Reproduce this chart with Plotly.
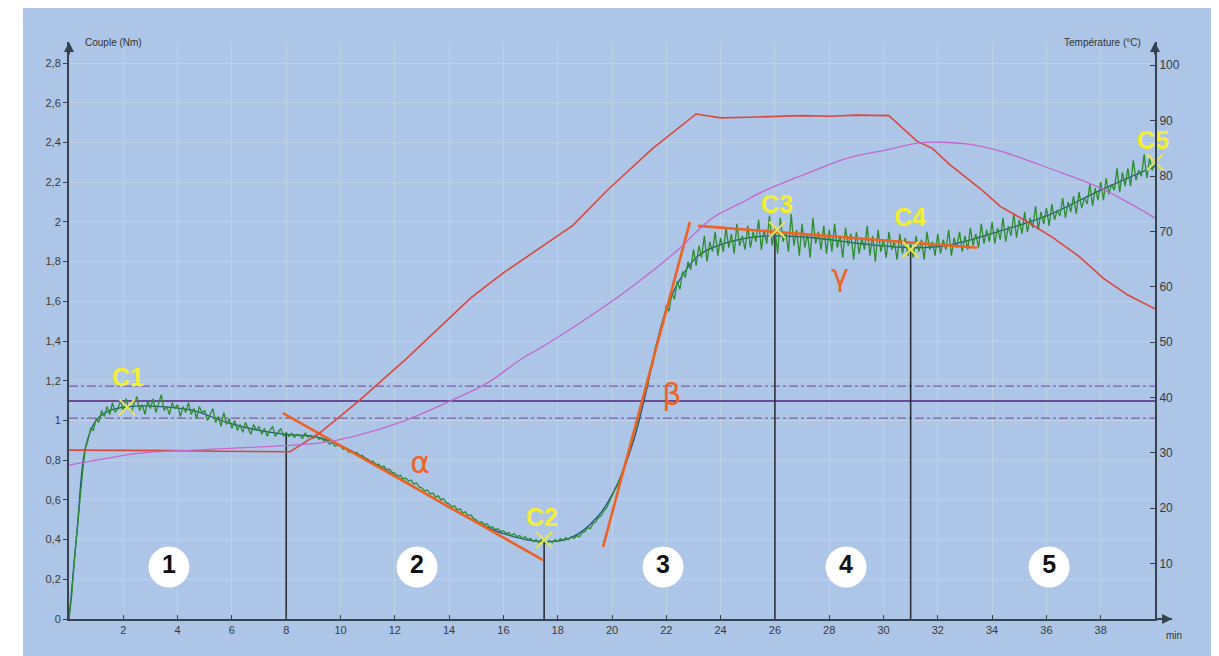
import plotly.graph_objects as go

# ---------------- data ----------------
time_step = 0.1
torque_raw = [
    0.00, 0.12, 0.30, 0.45, 0.62, 0.74, 0.86, 0.90, 0.96, 0.95,
    1.01, 0.99, 1.05, 1.02, 1.07, 1.03, 1.09, 1.04, 1.06, 1.10,
    1.05, 1.11, 1.06, 1.04, 1.09, 1.12, 1.05, 1.08, 1.03, 1.10,
    1.06, 1.11, 1.04, 1.08, 1.13, 1.05, 1.07, 1.03, 1.09, 1.06,
    1.08, 1.02, 1.07, 1.04, 1.09, 1.03, 1.06, 1.01, 1.07, 1.04,
    1.05, 1.00, 1.03, 1.06, 0.99, 1.02, 0.97, 1.04, 0.98, 1.01,
    0.96, 1.00, 0.95, 0.98, 0.94, 0.99, 0.96, 0.93, 0.98, 0.95,
    0.97, 0.93, 0.96, 0.92, 0.95, 0.97, 0.92, 0.94, 0.96, 0.92,
    0.94, 0.92, 0.935, 0.915, 0.93, 0.925, 0.91, 0.935, 0.915, 0.925,
    0.91, 0.925, 0.905, 0.91, 0.895, 0.90, 0.88, 0.89, 0.87, 0.875,
    0.87, 0.855, 0.86, 0.84, 0.845, 0.835, 0.84, 0.82, 0.825, 0.81,
    0.805, 0.79, 0.795, 0.775, 0.78, 0.765, 0.77, 0.75, 0.755, 0.74,
    0.735, 0.72, 0.725, 0.705, 0.71, 0.695, 0.70, 0.68, 0.685, 0.665,
    0.66, 0.645, 0.65, 0.63, 0.635, 0.615, 0.62, 0.60, 0.605, 0.585,
    0.58, 0.565, 0.57, 0.55, 0.555, 0.535, 0.54, 0.52, 0.525, 0.505,
    0.50, 0.485, 0.49, 0.475, 0.48, 0.46, 0.465, 0.45, 0.455, 0.44,
    0.445, 0.43, 0.435, 0.42, 0.43, 0.415, 0.42, 0.405, 0.415, 0.40,
    0.405, 0.39, 0.40, 0.385, 0.40, 0.39, 0.38, 0.395, 0.385, 0.40,
    0.39, 0.405, 0.395, 0.41, 0.40, 0.415, 0.405, 0.42, 0.415, 0.435,
    0.44, 0.46, 0.455, 0.48, 0.49, 0.51, 0.52, 0.545, 0.56, 0.59,
    0.62, 0.65, 0.67, 0.71, 0.76, 0.79, 0.84, 0.87, 0.93, 0.97,
    1.03, 1.08, 1.14, 1.17, 1.25, 1.28, 1.37, 1.40, 1.47, 1.49,
    1.58, 1.55, 1.64, 1.61, 1.70, 1.66, 1.75, 1.72, 1.80, 1.76,
    1.86, 1.78, 1.88, 1.82, 1.93, 1.80, 1.90, 1.85, 1.95, 1.83,
    1.92, 1.85, 1.97, 1.87, 1.94, 1.84, 1.99, 1.88, 1.93, 1.86,
    1.98, 1.87, 1.95, 1.90, 2.01, 1.86, 1.96, 1.89, 2.03, 1.88,
    1.97, 1.84, 2.02, 1.90, 1.95, 1.85, 2.04, 1.88, 1.96, 1.83,
    1.99, 1.87, 1.94, 1.82, 2.02, 1.89, 1.95, 1.86, 1.98, 1.84,
    1.96, 1.85, 1.99, 1.87, 1.93, 1.82, 1.97, 1.88, 1.94, 1.81,
    1.95, 1.84, 1.92, 1.86, 1.98, 1.83, 1.93, 1.80, 1.96, 1.85,
    1.91, 1.82, 1.95, 1.86, 1.90, 1.81, 1.94, 1.84, 1.92, 1.83,
    1.89, 1.82, 1.93, 1.85, 1.91, 1.81, 1.95, 1.86, 1.90, 1.83,
    1.94, 1.84, 1.91, 1.86, 1.96, 1.83, 1.92, 1.87, 1.95, 1.85,
    1.93, 1.86, 1.97, 1.88, 1.94, 1.87, 1.99, 1.89, 1.96, 1.90,
    2.00, 1.89, 1.97, 1.91, 2.02, 1.90, 1.98, 1.93, 2.04, 1.92,
    2.01, 1.94, 2.05, 1.95, 2.02, 1.97, 2.08, 1.96, 2.05, 1.99,
    2.07, 1.98, 2.09, 2.01, 2.06, 2.03, 2.12, 2.02, 2.10, 2.05,
    2.13, 2.04, 2.15, 2.07, 2.12, 2.09, 2.19, 2.08, 2.17, 2.11,
    2.20, 2.11, 2.22, 2.14, 2.19, 2.16, 2.27, 2.15, 2.25, 2.18,
    2.27, 2.18, 2.31, 2.21, 2.26, 2.23, 2.34, 2.22, 2.32, 2.26,
    2.31,
]
time_raw = [round(i * time_step, 1) for i in range(len(torque_raw))]

smooth_t = [0, 0.3, 0.6, 1.0, 1.5, 2.2, 3.4, 4.6, 5.8, 7.0, 8.0, 9.2, 10.5, 12.3,
            14.15, 16.0, 17.5, 18.5, 19.5, 20.2, 20.8, 21.3, 21.65, 22.0, 22.5,
            23.1, 23.7, 25, 26, 27.4, 29.2, 31, 32.3, 34.2, 36, 38, 40]
smooth_c = [0, 0.45, 0.86, 1.0, 1.05, 1.07, 1.07, 1.05, 0.99, 0.95, 0.93, 0.915,
            0.84, 0.70, 0.55, 0.43, 0.39, 0.41, 0.52, 0.68, 0.90, 1.17, 1.39,
            1.56, 1.71, 1.82, 1.87, 1.92, 1.93, 1.92, 1.89, 1.87, 1.88, 1.95,
            2.03, 2.16, 2.28]

red_t = [0, 2, 4, 5.5, 8.0, 8.14, 9.24, 10.7, 12.45, 14.8, 16, 17.35, 18.56, 19.8,
         21.5, 23.1, 24, 25, 26, 27, 28, 29, 30.2, 31.23, 31.8, 32.45, 33.07,
         33.66, 34.3, 35.2, 36.2, 37.2, 38.1, 39, 40]
red_temp = [30.5, 30.5, 30.4, 30.3, 30.2, 30.2, 33.6, 39.5, 47.1, 58, 62.5, 67,
            71.1, 77.3, 85, 91.2, 90.5, 90.6, 90.8, 90.9, 90.8, 91, 90.9, 86.3,
            85, 82, 79.6, 77.3, 74.5, 72, 69, 65.5, 61.5, 58.5, 56]

mag_t = [0, 1.5, 2.7, 4.6, 8.25, 9.24, 10.5, 12.3, 14.1, 15.4, 16.7, 17.35, 19.8,
         21, 22.2, 22.5, 23.7, 24.7, 25.6, 27.4, 28.65, 30.2, 31.2, 32.1, 33.2,
         34.3, 36.1, 38, 40]
mag_temp = [27.8, 29.1, 30, 30.5, 31.4, 31.8, 33, 35.7, 39.5, 42.6, 47.1, 48.9,
            56.7, 61, 65.7, 67, 72.4, 75, 77.3, 80.9, 83.2, 84.8, 85.9, 86.1,
            85.7, 84.5, 81.4, 77.8, 72.4]

limit_mid = 1.098
limit_band = [1.173, 1.012]

tangent_names = ["α", "β", "γ"]
tangent_t = [[7.88, 17.46], [19.67, 22.87], [23.17, 33.45]]
tangent_c = [[1.037, 0.297], [0.363, 2.0], [1.98, 1.87]]
tangent_label_t = [12.93, 22.2, 28.4]
tangent_label_c = [0.775, 1.118, 1.717]

point_names = ["C1", "C2", "C3", "C4", "C5"]
point_t = [2.14, 17.5, 26.08, 31.0, 40.0]
point_c = [1.067, 0.398, 1.96, 1.86, 2.30]
point_label_t = [2.17, 17.42, 26.08, 30.98, 39.93]
point_label_c = [1.203, 0.498, 2.075, 2.009, 2.40]

phase_bounds_t = [8.0, 17.5, 26.0, 31.0]
phase_bounds_c = [0.93, 0.39, 1.95, 1.86]

phase_names = ["1", "2", "3", "4", "5"]
phase_t = [3.68, 12.82, 21.88, 28.62, 36.1]
phase_c = 0.262

x_ticks = list(range(2, 40, 2))
y_ticks = [round(0.2 * i, 1) for i in range(15)]
y_ticktext = [("%g" % v).replace(".", ",") for v in y_ticks]
y2_ticks = list(range(10, 101, 10))

# ---------------- style ----------------
BLUE = "rgb(173,198,231)"
AXIS = "#37424f"
FONT = "Liberation Sans, Arial, sans-serif"
ORANGE = "rgb(238,98,36)"

fig = go.Figure()

for lv in limit_band:
    fig.add_trace(go.Scatter(x=[0, 40], y=[lv, lv], mode="lines",
                             line=dict(color="rgb(125,95,165)", width=1.2, dash="dashdot"),
                             hoverinfo="skip"))
fig.add_trace(go.Scatter(x=[0, 40], y=[limit_mid, limit_mid], mode="lines",
                         line=dict(color="rgb(105,75,150)", width=2.2), hoverinfo="skip"))

fig.add_trace(go.Scatter(x=red_t, y=red_temp, yaxis="y2", mode="lines",
                         line=dict(color="rgb(218,72,60)", width=1.6), hoverinfo="skip"))
fig.add_trace(go.Scatter(x=mag_t, y=mag_temp, yaxis="y2", mode="lines", line_shape="spline",
                         line=dict(color="rgb(195,105,205)", width=1.3), hoverinfo="skip"))

for t, c in zip(phase_bounds_t, phase_bounds_c):
    fig.add_trace(go.Scatter(x=[t, t], y=[0, c], mode="lines",
                             line=dict(color="#2b2f36", width=1.6), hoverinfo="skip"))

fig.add_trace(go.Scatter(x=smooth_t, y=smooth_c, mode="lines", line_shape="spline",
                         line=dict(color="rgb(35,85,125)", width=1.3), hoverinfo="skip"))
fig.add_trace(go.Scatter(x=time_raw, y=torque_raw, mode="lines",
                         line=dict(color="rgb(45,140,45)", width=1.3), hoverinfo="skip"))

for tt, cc in zip(tangent_t, tangent_c):
    fig.add_trace(go.Scatter(x=tt, y=cc, mode="lines",
                             line=dict(color=ORANGE, width=2.6), hoverinfo="skip"))
fig.add_trace(go.Scatter(x=tangent_label_t, y=tangent_label_c, mode="text",
                         text=tangent_names, cliponaxis=False,
                         textfont=dict(color=ORANGE, size=30, family="DejaVu Sans"),
                         hoverinfo="skip"))

fig.add_trace(go.Scatter(x=point_t, y=point_c, mode="markers", cliponaxis=False,
                         marker=dict(symbol="x-thin", size=16,
                                     line=dict(color="rgb(232,228,90)", width=2)),
                         hoverinfo="skip"))
fig.add_trace(go.Scatter(x=point_label_t, y=point_label_c, mode="text", cliponaxis=False,
                         text=["<b>%s</b>" % n for n in point_names],
                         textfont=dict(color="rgb(244,238,50)", size=25, family=FONT),
                         hoverinfo="skip"))

fig.add_trace(go.Scatter(x=phase_t, y=[phase_c] * len(phase_t), mode="markers+text",
                         text=["<b>%s</b>" % n for n in phase_names],
                         textposition="middle center",
                         marker=dict(symbol="circle", size=41, color="white"),
                         textfont=dict(color="#111111", size=25, family=FONT),
                         hoverinfo="skip"))

grid = "rgba(225,232,225,0.32)"
fig.update_layout(
    width=1219, height=656,
    margin=dict(l=69, r=64, t=42, b=37),
    paper_bgcolor="white",
    plot_bgcolor="rgba(0,0,0,0)",
    showlegend=False,
    hovermode=False,
    font=dict(family=FONT, color="#333", size=11),
    xaxis=dict(range=[0, 40], tickvals=x_ticks, ticks="inside", ticklen=4,
               tickcolor=AXIS, showline=True, linecolor=AXIS, linewidth=2,
               showgrid=True, gridcolor=grid, gridwidth=1, zeroline=False,
               tickfont=dict(size=11, color="#3a3a3a")),
    yaxis=dict(range=[0, 2.906], tickvals=y_ticks, ticktext=y_ticktext,
               ticks="outside", ticklen=4, tickcolor=AXIS,
               showline=True, linecolor=AXIS, linewidth=2,
               showgrid=True, gridcolor=grid, gridwidth=1, zeroline=False,
               tickfont=dict(size=11, color="#3a3a3a")),
    yaxis2=dict(range=[0, 104.2], overlaying="y", side="right",
                tickvals=y2_ticks, ticks="inside", ticklen=5, tickcolor=AXIS,
                showline=True, linecolor=AXIS, linewidth=2, showgrid=False,
                zeroline=False, tickfont=dict(size=12, color="#3a3a3a")),
    shapes=[
        dict(type="rect", xref="paper", yref="paper", x0=-0.0424, x1=1.0516,
             y0=-0.0641, y1=1.0589, fillcolor=BLUE, line=dict(width=0), layer="below"),
        dict(type="line", xref="paper", yref="paper", x0=1.0, x1=1.0157, y0=0, y1=0,
             line=dict(color=AXIS, width=2)),
    ],
    annotations=[
        dict(xref="paper", yref="paper", x=0, y=1.0, ax=0, ay=14, showarrow=True,
             arrowhead=2, arrowsize=1, arrowwidth=2, arrowcolor=AXIS, text=""),
        dict(xref="paper", yref="paper", x=1, y=1.0, ax=0, ay=14, showarrow=True,
             arrowhead=2, arrowsize=1, arrowwidth=2, arrowcolor=AXIS, text=""),
        dict(xref="paper", yref="paper", x=1.0157, y=0, ax=-14, ay=0, showarrow=True,
             arrowhead=2, arrowsize=1, arrowwidth=2, arrowcolor=AXIS, text=""),
        dict(xref="paper", yref="paper", x=0.0129, y=1.0, xanchor="left", yanchor="middle",
             text="Couple (Nm)", showarrow=False, font=dict(size=10, color="#333")),
        dict(xref="paper", yref="paper", x=0.989, y=1.0, xanchor="right", yanchor="middle",
             text="Température (°C)", showarrow=False, font=dict(size=10, color="#333")),
        dict(xref="paper", yref="paper", x=1.0175, y=-0.028, xanchor="center", yanchor="middle",
             text="min", showarrow=False, font=dict(size=10, color="#333")),
    ],
)

fig.write_html(
    "out.html",
    config={"displayModeBar": False},
    post_script="document.body.style.margin='0';document.body.style.overflow='hidden';",
)
